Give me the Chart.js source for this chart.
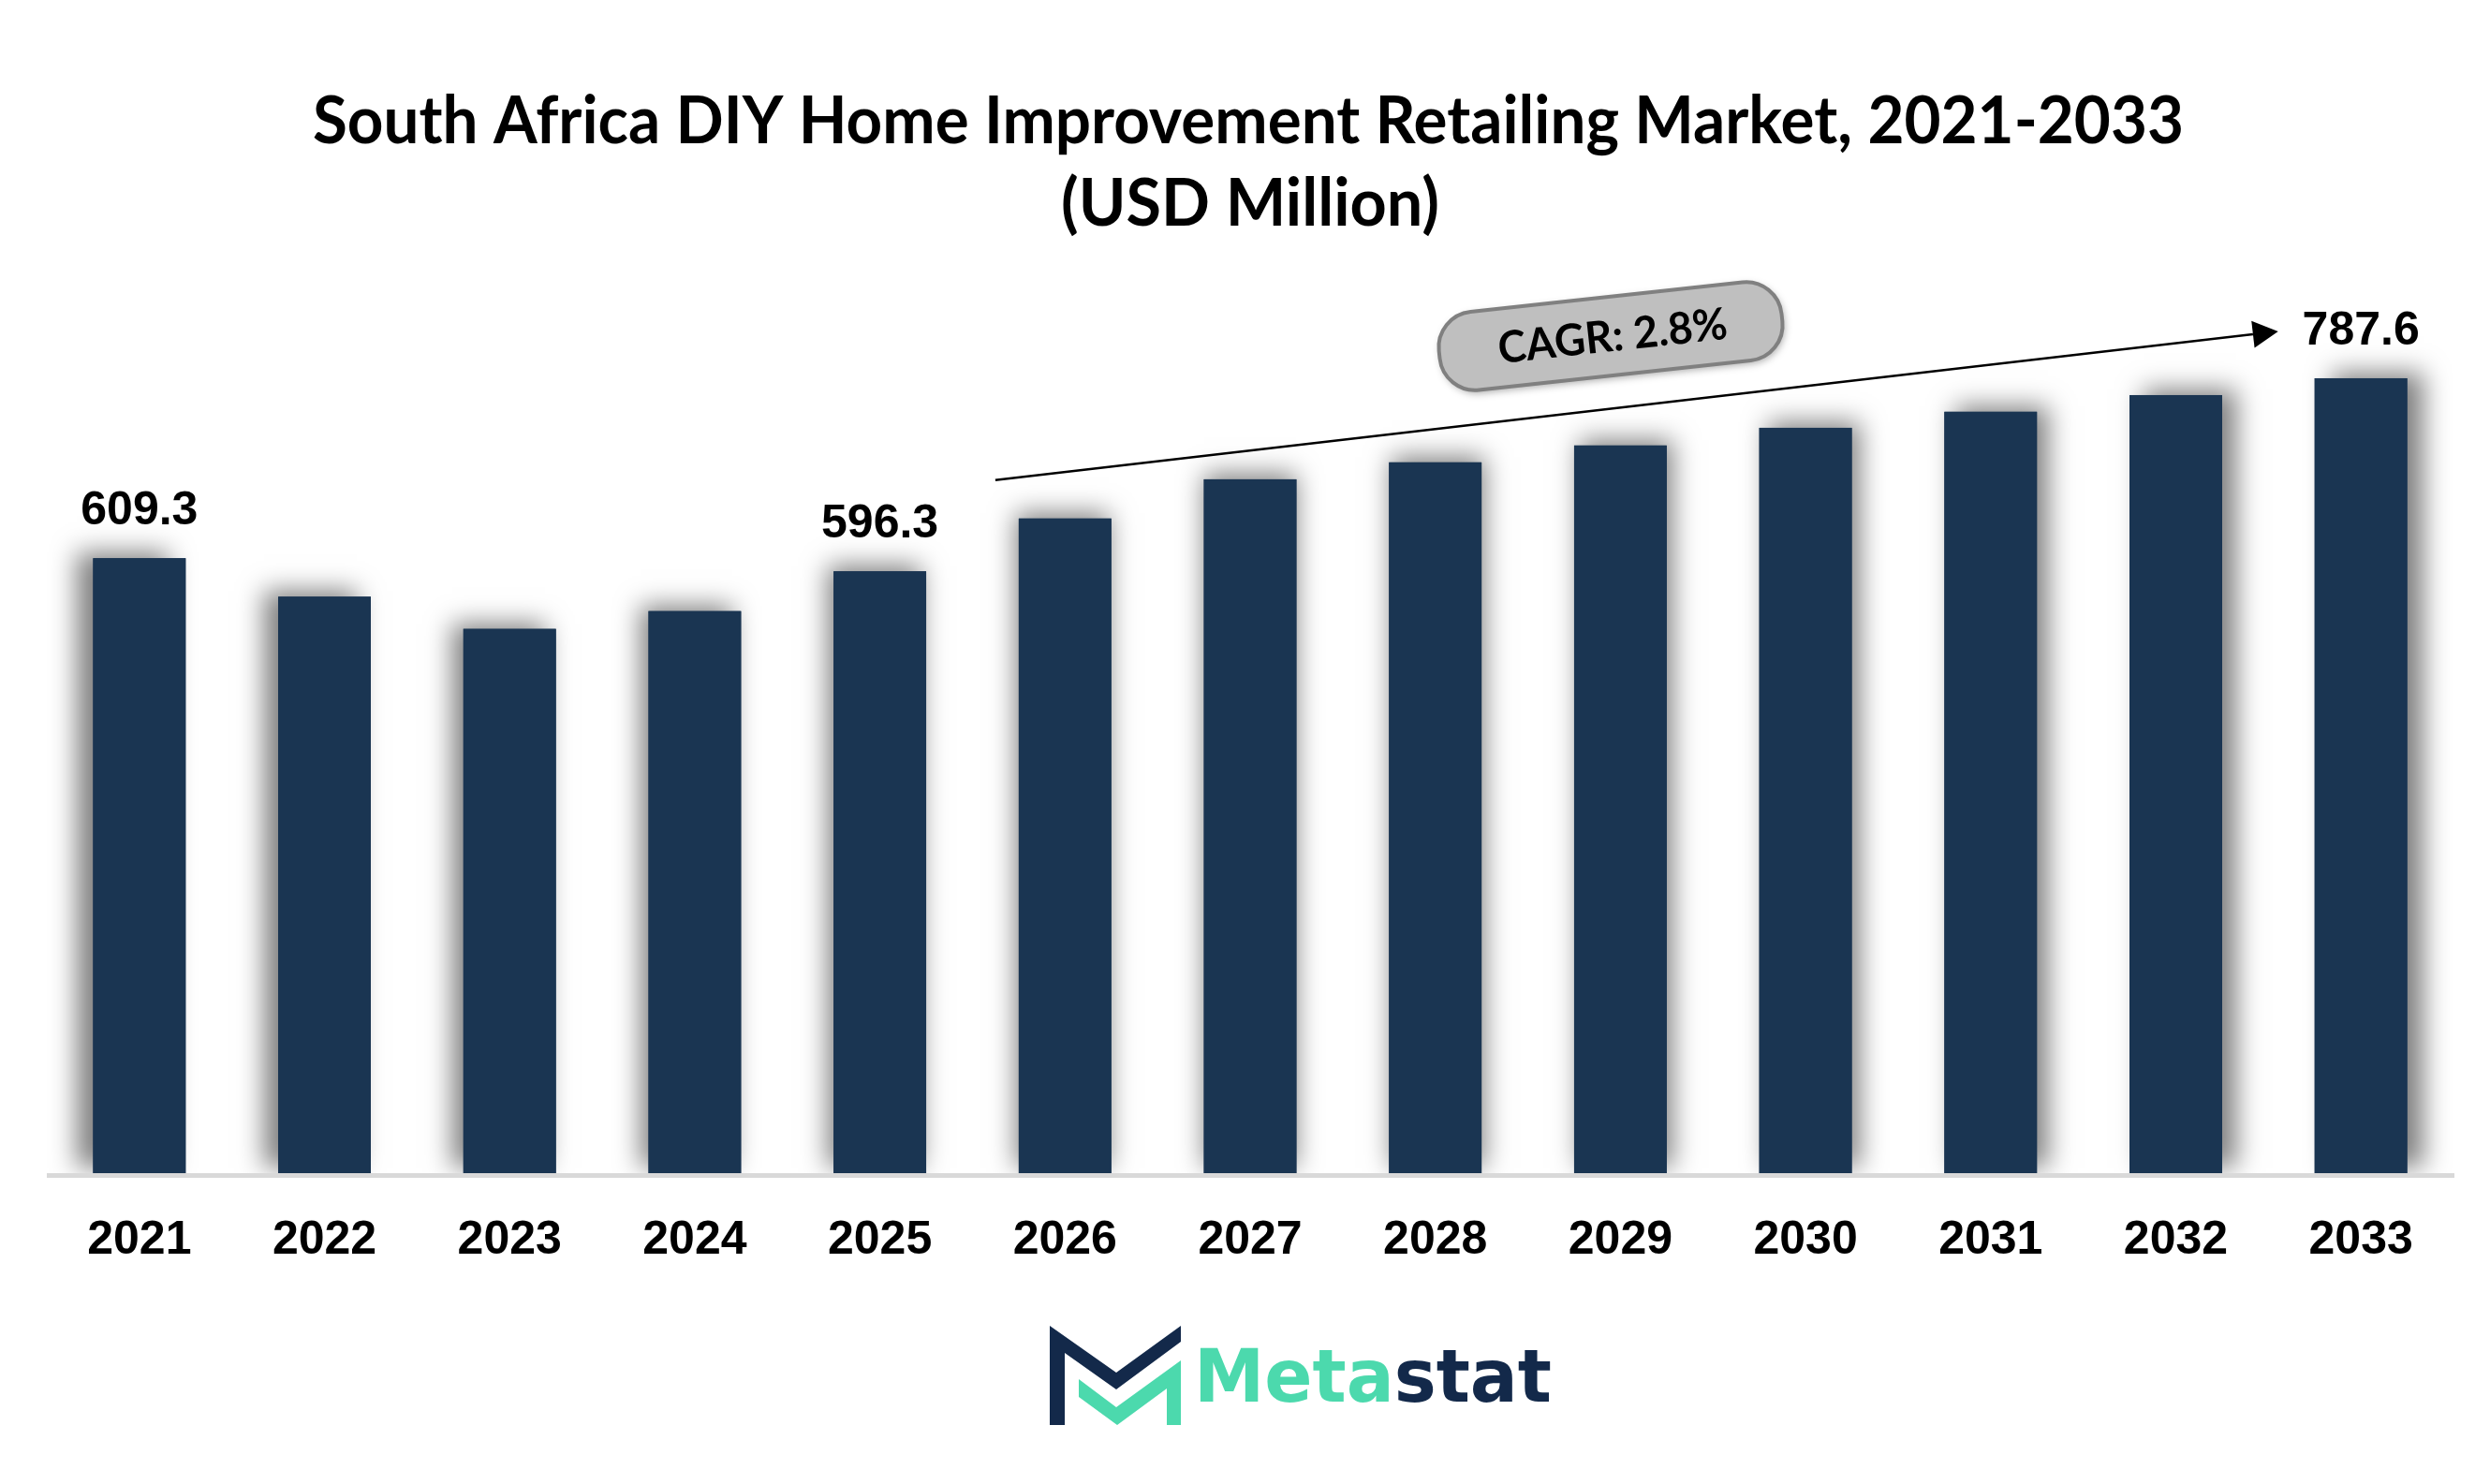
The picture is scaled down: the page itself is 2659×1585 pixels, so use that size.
<!DOCTYPE html>
<html><head><meta charset="utf-8">
<script src="https://cdn.jsdelivr.net/npm/chart.js@4.4.1/dist/chart.umd.min.js"></script>
<style>html,body{margin:0;padding:0;background:#fff;}#wrap{width:2659px;height:1585px;position:relative;}</style>
</head><body><div id="wrap"><canvas id="c" width="2659" height="1585"></canvas></div>
<script>
// ---- data ----
const categories = ['2021','2022','2023','2024','2025','2026','2027','2028','2029','2030','2031','2032','2033'];
const marketValues = [609.3, 571.1, 539.3, 556.9, 596.3, 648.6, 687.5, 704.2, 720.9, 738.5, 754.3, 770.9, 787.6];
const labeledYears = ['2021','2025','2033'];
const titleLines = ['South Africa DIY Home Improvement Retailing Market, 2021-2033', '(USD Million)'];
const cagrText = 'CAGR: 2.8%';
const brandParts = ['Meta', 'stat'];

const BAR = '#1a3552';
const NAVY = '#13294a';
const TEAL = '#4cd9ad';

const deco = {
  id: 'deco',
  beforeDatasetsDraw(chart) {
    const ctx = chart.ctx;
    const meta = chart.getDatasetMeta(0);
    const area = chart.chartArea;
    const cx = (area.left + area.right) / 2;
    ctx.save();
    ctx.beginPath();
    ctx.rect(0, 0, chart.width, area.bottom);
    ctx.clip();
    meta.data.forEach(el => {
      ctx.save();
      ctx.shadowColor = 'rgba(0,0,0,0.5)';
      ctx.shadowBlur = 26;
      ctx.shadowOffsetX = (el.x - cx) * 0.015;
      ctx.shadowOffsetY = -6;
      ctx.fillStyle = BAR;
      ctx.fillRect(el.x - el.width / 2, el.y, el.width, el.base - el.y);
      ctx.restore();
    });
    ctx.restore();
  },
  afterDatasetsDraw(chart) {
    const ctx = chart.ctx;
    const meta = chart.getDatasetMeta(0);
    const area = chart.chartArea;
    // axis line
    ctx.save();
    ctx.fillStyle = '#d9d9d9';
    ctx.fillRect(area.left, area.bottom, area.right - area.left + 1, 5);
    ctx.restore();
    // value labels
    ctx.save();
    ctx.font = "bold 50px 'Liberation Sans', Arial, sans-serif";
    ctx.fillStyle = '#000';
    ctx.textAlign = 'center';
    ctx.textBaseline = 'alphabetic';
    categories.forEach((c, i) => {
      if (labeledYears.includes(c)) {
        const el = meta.data[i];
        ctx.fillText(marketValues[i].toFixed(1), el.x, el.y - 36);
      }
    });
    ctx.restore();
    // CAGR arrow
    const a = meta.data[5], b = meta.data[12];
    const sx = a.x - a.width / 2 - 25, sy = a.y - 41;
    const tx = b.x - b.width / 2 - 39, ty = b.y - 50;
    const ang = Math.atan2(ty - sy, tx - sx);
    const hl = 27, hw = 14.5;
    const bx = tx - hl * Math.cos(ang), by = ty - hl * Math.sin(ang);
    ctx.save();
    ctx.strokeStyle = '#000';
    ctx.lineWidth = 2.5;
    ctx.beginPath();
    ctx.moveTo(sx, sy);
    ctx.lineTo(bx, by);
    ctx.stroke();
    ctx.fillStyle = '#000';
    ctx.beginPath();
    ctx.moveTo(tx, ty);
    ctx.lineTo(bx + hw * Math.sin(ang), by - hw * Math.cos(ang));
    ctx.lineTo(bx - hw * Math.sin(ang), by + hw * Math.cos(ang));
    ctx.closePath();
    ctx.fill();
    ctx.restore();
    // CAGR box
    ctx.save();
    ctx.translate(1720, 359);
    ctx.rotate(-6.2 * Math.PI / 180);
    ctx.shadowColor = 'rgba(0,0,0,0.35)';
    ctx.shadowBlur = 8;
    ctx.shadowOffsetX = 2;
    ctx.shadowOffsetY = 3;
    ctx.beginPath();
    ctx.roundRect(-184, -42, 368, 84, 38);
    ctx.fillStyle = '#bfbfbf';
    ctx.fill();
    ctx.shadowColor = 'transparent';
    ctx.lineWidth = 4;
    ctx.strokeStyle = '#808080';
    ctx.stroke();
    ctx.fillStyle = '#000';
    ctx.font = "bold 47px Lato, 'Open Sans', sans-serif";
    ctx.textAlign = 'center';
    ctx.textBaseline = 'middle';
    ctx.fillText(cagrText, 2, 1, 246);
    ctx.restore();
  },
  afterDraw(chart) {
    const ctx = chart.ctx;
    // title
    ctx.save();
    ctx.fillStyle = '#000';
    ctx.textAlign = 'center';
    ctx.textBaseline = 'alphabetic';
    ctx.font = "bold 70px Lato, 'Open Sans', sans-serif";
    ctx.fillText(titleLines[0], 1333, 153, 1998);
    ctx.fillText(titleLines[1], 1335, 241, 404);
    ctx.restore();
    // logo icon
    ctx.save();
    ctx.fillStyle = NAVY;
    ctx.beginPath();
    [[1121,1416],[1192,1466],[1261,1416],[1261,1433],[1192,1484],[1137,1445],[1137,1522],[1121,1522]]
      .forEach((p, i) => i ? ctx.lineTo(p[0], p[1]) : ctx.moveTo(p[0], p[1]));
    ctx.closePath(); ctx.fill();
    ctx.fillStyle = TEAL;
    ctx.beginPath();
    [[1152,1473],[1192,1503],[1261,1453],[1261,1522],[1246,1522],[1246,1483],[1193,1522],[1152,1492]]
      .forEach((p, i) => i ? ctx.lineTo(p[0], p[1]) : ctx.moveTo(p[0], p[1]));
    ctx.closePath(); ctx.fill();
    // logo text
    ctx.font = "bold 78px 'DejaVu Sans', sans-serif";
    ctx.textBaseline = 'alphabetic';
    ctx.textAlign = 'left';
    const w1 = ctx.measureText(brandParts[0]).width;
    const w2 = ctx.measureText(brandParts[1]).width;
    const s = 382 / (w1 + w2);
    ctx.translate(1275, 1497);
    ctx.scale(s, 1);
    ctx.fillStyle = TEAL;
    ctx.fillText(brandParts[0], 0, 0);
    ctx.fillStyle = NAVY;
    ctx.fillText(brandParts[1], w1, 0);
    ctx.restore();
  }
};

new Chart(document.getElementById('c'), {
  type: 'bar',
  data: {
    labels: categories,
    datasets: [{
      data: marketValues,
      backgroundColor: BAR,
      borderWidth: 0,
      barPercentage: 0.5,
      categoryPercentage: 1.0
    }]
  },
  options: {
    responsive: false,
    animation: false,
    devicePixelRatio: 1,
    layout: { padding: { top: 175, left: 50, right: 39, bottom: 188 } },
    plugins: { legend: { display: false }, title: { display: false }, tooltip: { enabled: false } },
    scales: {
      x: {
        grid: { display: false, drawTicks: false },
        border: { display: false },
        ticks: {
          color: '#000',
          padding: 42,
          font: { family: "'Liberation Sans', Arial, sans-serif", size: 50, weight: 'bold' }
        }
      },
      y: { display: false, min: 0, max: 1000 }
    }
  },
  plugins: [deco]
});
</script></body></html>
